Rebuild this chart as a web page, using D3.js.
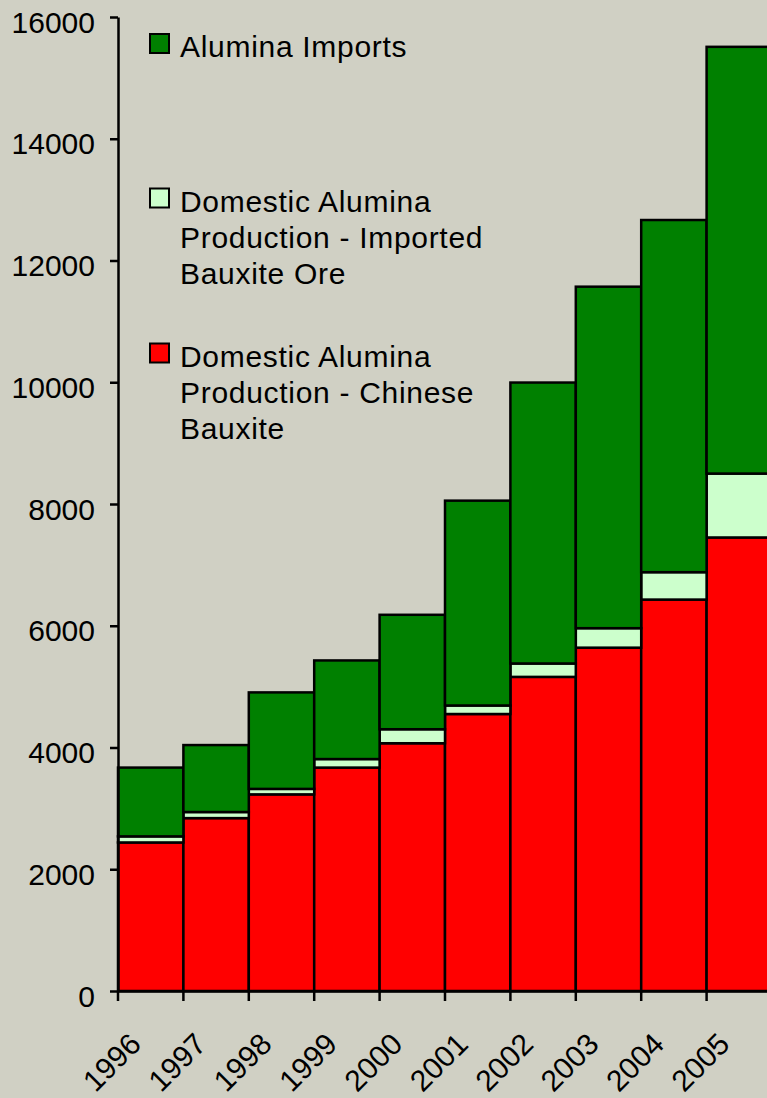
<!DOCTYPE html>
<html><head><meta charset="utf-8">
<script src="https://cdn.jsdelivr.net/npm/d3@7"></script>
<style>
html,body{margin:0;padding:0;background:#D0D0C4;}
svg{display:block;font-family:"Liberation Sans",Arial,sans-serif;}
</style></head>
<body>
<svg id="chart" width="767" height="1098"></svg>
<script>
const years = ['1996','1997','1998','1999','2000','2001','2002','2003','2004','2005'];
const chineseBauxite = [2440, 2840, 3230, 3670, 4070, 4550, 5160, 5640, 6430, 7450];
const importedBauxite = [100, 100, 90, 140, 230, 140, 220, 320, 450, 1050];
const aluminaImports = [1130, 1100, 1585, 1620, 1880, 3365, 4615, 5610, 5785, 7010];
const yTicks = [0, 2000, 4000, 6000, 8000, 10000, 12000, 14000, 16000];
const seriesNames = ['Domestic Alumina Production - Chinese Bauxite', 'Domestic Alumina Production - Imported Bauxite Ore', 'Alumina Imports'];
const seriesColors = ['#FF0000', '#CCFFCC', '#008000'];
const legendLines = [
  ['Alumina Imports'],
  ['Domestic Alumina', 'Production - Imported', 'Bauxite Ore'],
  ['Domestic Alumina', 'Production - Chinese', 'Bauxite']
];
const legendColors = ['#008000', '#CCFFCC', '#FF0000'];

const keys = ['cb', 'ib', 'ai'];
const table = years.map((y, i) => ({year: y, cb: chineseBauxite[i], ib: importedBauxite[i], ai: aluminaImports[i]}));

const svg = d3.select('#chart');
const x0 = 118, step = 65.4;
const x = d3.scaleBand().domain(years).range([x0, x0 + step * years.length]).padding(0);
const y = d3.scaleLinear().domain([0, 16000]).range([991, 17]);

const stacked = d3.stack().keys(keys)(table);

svg.append('g').selectAll('g').data(stacked).join('g')
  .attr('fill', (d, i) => seriesColors[i])
  .selectAll('rect').data(d => d).join('rect')
  .attr('x', d => x(d.data.year))
  .attr('width', x.bandwidth())
  .attr('y', d => y(d[1]))
  .attr('height', d => y(d[0]) - y(d[1]))
  .attr('stroke', '#000')
  .attr('stroke-width', 2.5);

// Y axis
const yAxis = svg.append('g').attr('transform', `translate(${x0},0)`)
  .call(d3.axisLeft(y).tickValues(yTicks).tickSize(8).tickSizeOuter(0).tickFormat(d => String(d)));
yAxis.select('.domain').attr('stroke', '#000').attr('stroke-width', 2.5);
yAxis.selectAll('.tick line').attr('stroke', '#000').attr('stroke-width', 2.5);
yAxis.selectAll('.tick text')
  .attr('x', -23).attr('dy', null).attr('y', 15)
  .attr('fill', '#000').attr('font-size', 30)
  .attr('font-family', '"Liberation Sans",Arial,sans-serif');

// X axis
const xAxis = svg.append('g').attr('transform', `translate(0,${y(0)})`)
  .call(d3.axisBottom(x).tickSize(10).tickSizeOuter(0));
xAxis.select('.domain').attr('stroke', '#000').attr('stroke-width', 2.5);
xAxis.selectAll('.tick line')
  .attr('transform', `translate(${-x.bandwidth() / 2},0)`)
  .attr('stroke', '#000').attr('stroke-width', 2.5);
xAxis.selectAll('.tick text')
  .attr('y', null).attr('dy', null)
  .attr('text-anchor', 'end')
  .attr('transform', 'translate(-8,55) rotate(-45)')
  .attr('fill', '#000').attr('font-size', 30)
  .attr('font-family', '"Liberation Sans",Arial,sans-serif');

// Legend
const baselines = [57, 211.5, 366.5];
const lg = svg.append('g');
legendLines.forEach((lines, i) => {
  lg.append('rect')
    .attr('x', 150).attr('y', baselines[i] - 23)
    .attr('width', 19).attr('height', 19)
    .attr('fill', legendColors[i]).attr('stroke', '#000').attr('stroke-width', 2);
  const t = lg.append('text').attr('x', 180).attr('y', baselines[i])
    .attr('font-size', 30).attr('letter-spacing', 0.7).attr('fill', '#000');
  lines.forEach((ln, j) => {
    t.append('tspan').attr('x', 180).attr('y', baselines[i] + j * 36).text(ln);
  });
});
</script>
</body></html>
